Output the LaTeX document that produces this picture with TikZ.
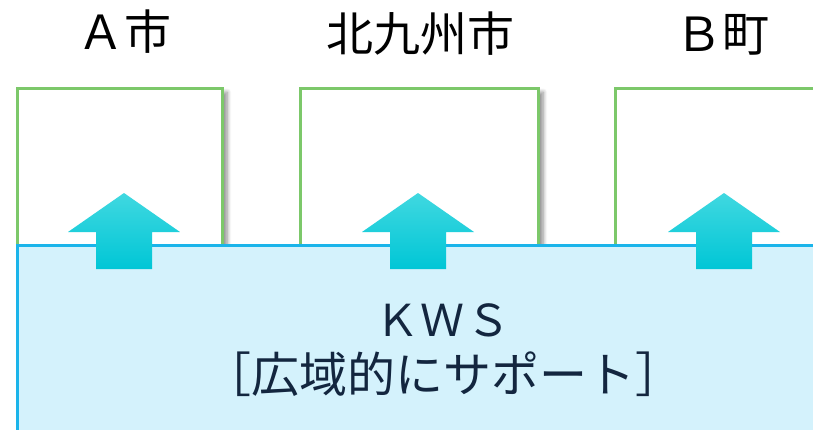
\documentclass[tikz,border=0pt]{standalone}
\usepackage{fontspec}
\setmainfont{Noto Sans CJK JP}
\usetikzlibrary{shadows.blur}
\definecolor{townline}{HTML}{7CC86A}
\definecolor{kwsfill}{HTML}{D4F2FC}
\definecolor{kwsline}{HTML}{1AB4EA}
\definecolor{kwstext}{HTML}{13263F}
\definecolor{uptop}{HTML}{40D8E0}
\definecolor{upbot}{HTML}{00C6D6}
\begin{document}
\begin{tikzpicture}[x=1bp,y=-1bp,
	town/.style={draw=townline,line width=2.5bp,fill=white,minimum width=#1,minimum height=175bp,
		anchor=north west,inner sep=0,
		blur shadow={shadow xshift=5bp,shadow yshift=-4bp,shadow blur steps=8,
			shadow blur radius=4bp,shadow opacity=45}},
	townname/.style={font=\fontsize{47bp}{50bp}\selectfont,text=black},
	uparrow/.style={top color=uptop,bottom color=upbot,draw=none}]
\useasboundingbox (0,0) rectangle (813,429);
\clip (0,0) rectangle (813,429);
% towns
\node[town=205bp] (a) at (16,87) {};
\node[town=238bp] (kitakyushu) at (299,87) {};
\node[town=240bp] (b) at (614,87) {};
\node[townname] (aname) at (124,32) {Ａ市};
\node[townname] (kname) at (420,34) {北九州市};
\node[townname] (bname) at (722,35) {Ｂ町};
% KWS
\node[draw=kwsline,fill=kwsfill,line width=2.5bp,anchor=north west,minimum width=840bp,
	minimum height=220bp] (kws) at (16,244) {};
\node[text=kwstext,font=\fontsize{48bp}{56bp}\selectfont,align=center] (kwsname) at (443,350)
	{{\fontsize{44bp}{50bp}\selectfont Ｋ\hspace{2bp}Ｗ\hspace{2bp}Ｓ}\\［広域的にサポート］};
% arrows
\foreach \x/\n in {124/ua,418/uk,724/ub}
	\path[uparrow] (\x,193) coordinate (\n) -- (\x+56,232) -- (\x+28,232) -- (\x+28,269)
		-- (\x-28,269) -- (\x-28,232) -- (\x-56,232) -- cycle;
\end{tikzpicture}
\end{document}
